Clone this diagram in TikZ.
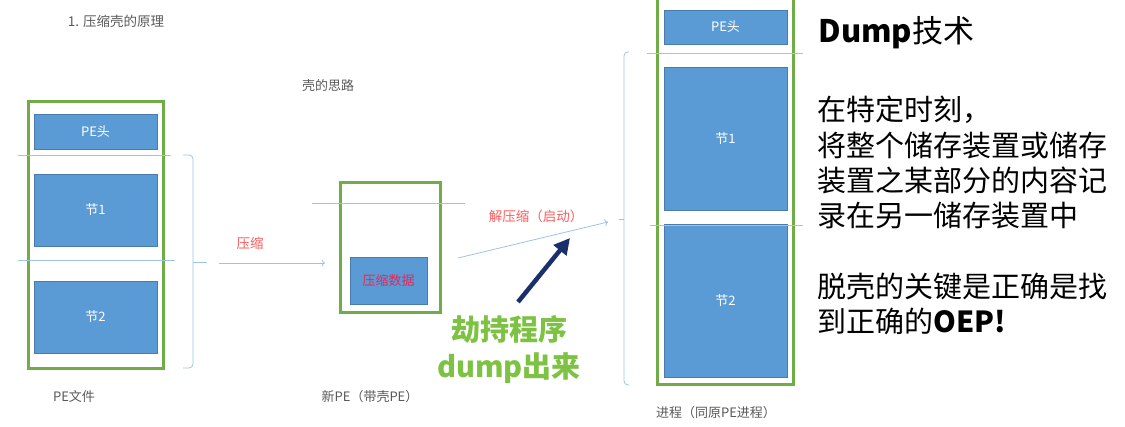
\documentclass[tikz,border=0pt]{standalone}
\usepackage{fontspec}
\setmainfont{Noto Sans CJK SC}
\usetikzlibrary{arrows.meta}

\definecolor{boxblue}{HTML}{5B9BD5}
\definecolor{framegreen}{HTML}{70AD47}
\definecolor{lineblue}{HTML}{9DC3E6}
\definecolor{labelred}{HTML}{FF5B5B}
\definecolor{datared}{HTML}{E0285A}
\definecolor{textgray}{HTML}{595959}
\definecolor{hijackgreen}{HTML}{7DC242}
\definecolor{navy}{HTML}{1B2F6B}

\tikzset{
  block/.style={fill=boxblue, draw=boxblue!80!black, line width=0.4pt, text=white,
    font=\fontsize{13}{13}\selectfont, minimum width=123pt, inner sep=0pt},
  frame/.style={draw=framegreen, line width=3pt, inner sep=0pt},
  thinline/.style={draw=lineblue, line width=0.8pt},
  caption/.style={text=textgray, font=\fontsize{13}{13}\selectfont},
  redlabel/.style={text=labelred, font=\fontsize{13.5}{13.5}\selectfont},
}

\begin{document}
\begin{tikzpicture}[x=1pt, y=-1pt]
  \useasboundingbox (0,0) rectangle (1125,427);

  % titles
  \node[caption, font=\fontsize{13.5}{13.5}\selectfont] (title) at (116,21) {1. 压缩壳的原理};
  \node[caption] (idea) at (328,86) {壳的思路};

  % original PE file
  \node[frame, minimum width=135pt, minimum height=267pt] (file) at (95.5,235.5) {};
  \node[block, minimum height=35pt] (head1) at (95.5,131.5) {PE头};
  \node[block, minimum height=72pt] (sec1a) at (95.5,210) {节1};
  \node[block, minimum height=72pt] (sec2a) at (95.5,317) {节2};
  \draw[thinline] (18,155) -- (171,155);
  \draw[thinline] (18,260) -- (175,260);
  \node[caption] (filelabel) at (74,397) {PE文件};

  % brace round the sections
  \coordinate (bracetipa) at (207,262);
  \draw[thinline, rounded corners=4pt] (183,155) -| (193,262) |- (183,368);
  \draw[thinline] (193,262) -- (bracetipa);

  % compress
  \coordinate (packstart) at (219,263);
  \coordinate (packend) at (325,263);
  \draw[thinline, ->] (packstart) -- (packend);
  \node[redlabel] (packlabel) at (250,243) {压缩};

  % packed PE
  \node[frame, minimum width=100pt, minimum height=130pt] (packed) at (390,248) {};
  \node[block, minimum width=77pt, minimum height=47pt, text=datared] (data) at (388.5,280.5) {压缩数据};
  \draw[thinline] (312,203) -- (465,203);
  \node[caption] (packedlabel) at (370,397) {新PE（带壳PE）};

  % decompress
  \coordinate (unpackstart) at (458,258);
  \coordinate (unpackend) at (608,222);
  \draw[thinline, ->] (unpackstart) -- (unpackend);
  \node[redlabel] (unpacklabel) at (536,216) {解压缩（启动）};

  % hijack
  \node[text=hijackgreen, font=\fontsize{29}{37}\selectfont\bfseries, align=center] (hijack) at (509,349) {劫持程序\\dump出来};
  \coordinate (hijackstart) at (518,302);
  \coordinate (hijackend) at (570,238);
  \draw[navy, line width=4.5pt, -{Triangle[length=16pt, width=16pt]}] (hijackstart) -- (hijackend);

  % process
  \node[frame, minimum width=136pt, minimum height=392pt] (proc) at (725,189) {};
  \node[block, minimum height=34pt] (head2) at (725.5,27) {PE头};
  \node[block, minimum height=143pt] (sec1b) at (725.5,138.5) {节1};
  \node[block, minimum height=153pt] (sec2b) at (725.5,300.5) {节2};
  \draw[thinline] (647,53) -- (803,53);
  \draw[thinline] (650,225) -- (803,225);
  \node[caption] (proclabel) at (716,413) {进程（同原PE进程）};

  % brace round the process
  \coordinate (bracetipb) at (619,219);
  \draw[thinline, rounded corners=4pt] (629,52) -| (624,219) |- (629,385);
  \draw[thinline] (624,219) -- (bracetipb);

  % dump notes
  \node[anchor=west, font=\fontsize{31}{31}\selectfont] (dumptitle) at (815,33) {\textbf{Dump}技术};
  \node[anchor=north west, align=left, inner sep=0pt, font=\fontsize{29}{35.3}\selectfont] (notes) at (817,96)
    {在特定时刻，\\将整个储存装置或储存\\装置之某部分的内容记\\录在另一储存装置中\\[35.3pt]脱壳的关键是正确是找\\到正确的\textbf{OEP!}};
\end{tikzpicture}
\end{document}
